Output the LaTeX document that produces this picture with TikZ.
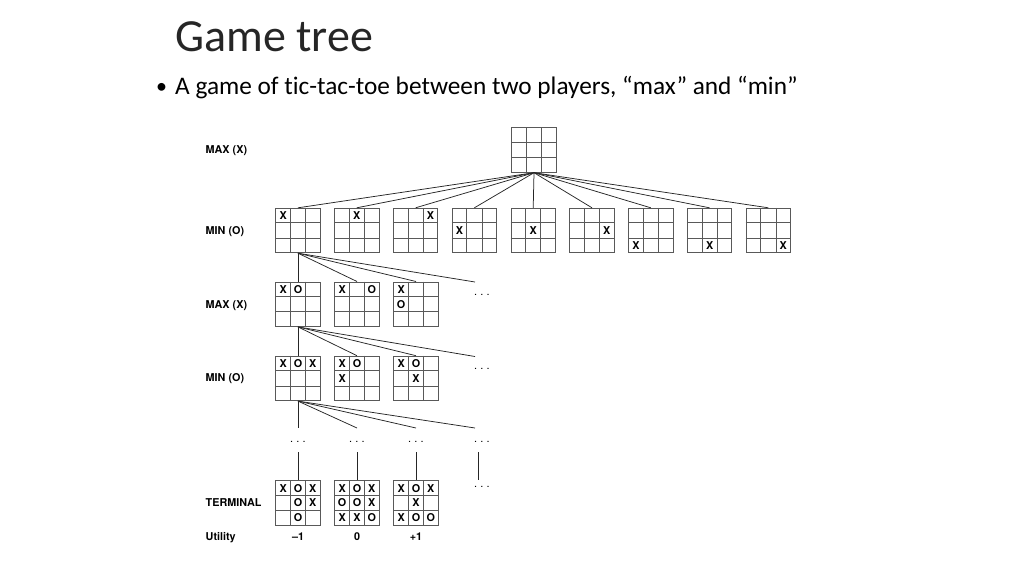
\documentclass[tikz,border=0pt]{standalone}
\usepackage{fontspec}
\setmainfont{Carlito}[Ligatures={NoCommon,NoRequired,NoContextual}]
\newfontfamily\labelfont{TeX Gyre Heros}
\usetikzlibrary{calc}

\definecolor{gridgray}{gray}{0.35}
\definecolor{edgegray}{gray}{0.15}

\tikzset{
  board/.style={draw=gridgray, line width=0.9pt, minimum width=44.5pt, minimum height=44.5pt, inner sep=0pt},
  gridline/.style={draw=gridgray, line width=0.9pt},
  cellmark/.style={font=\labelfont\bfseries\fontsize{10.8}{12}\selectfont, inner sep=0pt},
  rowlabel/.style={font=\labelfont\bfseries\fontsize{10.8}{12}\selectfont, anchor=base west, inner sep=0pt},
  utilval/.style={font=\labelfont\bfseries\fontsize{10.8}{12}\selectfont, anchor=base, inner sep=0pt},
  edge/.style={draw=edgegray, line width=0.75pt},
  dotsnode/.style={font=\labelfont\fontsize{11}{12}\selectfont, inner sep=0pt}
}

% board: name, x, y, marks as col/row/symbol
\newcommand{\tttboard}[4]{%
  \node[board] (#1) at (#2,#3) {};
  \draw[gridline]
    ($(#1.north west)!1/3!(#1.north east)$) -- ($(#1.south west)!1/3!(#1.south east)$)
    ($(#1.north west)!2/3!(#1.north east)$) -- ($(#1.south west)!2/3!(#1.south east)$)
    ($(#1.north west)!1/3!(#1.south west)$) -- ($(#1.north east)!1/3!(#1.south east)$)
    ($(#1.north west)!2/3!(#1.south west)$) -- ($(#1.north east)!2/3!(#1.south east)$);
  \foreach \mc/\mr/\ms in {#4} {
    \node[cellmark] at ($(#1.center)+({(\mc-2)*14.83},{(\mr-2)*14.83})$) {\ms};
  }%
}
\newcommand{\dotstext}{.\hspace{3.2pt}.\hspace{3.2pt}.}

\begin{document}
\begin{tikzpicture}[x=1pt, y=-1pt]
  \useasboundingbox (0,0) rectangle (1024,576);

  % slide text
  \node[anchor=base west, inner sep=0pt, text=black!85, font=\fontsize{46}{50}\selectfont] (title) at (175,51) {Game tree};
  \node[anchor=base west, inner sep=0pt, font=\fontsize{22}{25}\selectfont] (bullet) at (156,93) {•};
  \node[anchor=base west, inner sep=0pt, font=\fontsize{25.3}{28}\selectfont] (subtitle) at (175,94)
    {A game of tic-tac-toe between two players, “max” and “min”};

  % row labels
  \node[rowlabel] (lmax1) at (205.5,153) {MAX (X)};
  \node[rowlabel] (lmin1) at (205.5,234) {MIN (O)};
  \node[rowlabel] (lmax2) at (205.5,308.5) {MAX (X)};
  \node[rowlabel] (lmin2) at (205.5,381) {MIN (O)};
  \node[rowlabel] (lterm) at (205.5,506) {TERMINAL};
  \node[rowlabel] (lutil) at (205.5,540.5) {Utility};

  % root
  \tttboard{root}{534}{150}{}

  % first moves of X
  \foreach \i in {1,...,9} {
    \pgfmathsetmacro\bx{298+58.8*(\i-1)}
    \pgfmathtruncatemacro\cc{mod(\i-1,3)+1}
    \pgfmathtruncatemacro\rr{floor((\i-1)/3)+1}
    \tttboard{m\i}{\bx}{230.5}{\cc/\rr/X}
    \draw[edge] (root.south) -- (m\i.north);
  }

  % replies of O
  \tttboard{a1}{298}{304.2}{1/1/X, 2/1/O}
  \tttboard{a2}{357}{304.2}{1/1/X, 3/1/O}
  \tttboard{a3}{416}{304.2}{1/1/X, 1/2/O}
  \coordinate (a4) at (475,282);
  \node[dotsnode] (adots) at (482,295) {\dotstext};
  \foreach \n in {a1,a2,a3,a4}
    \draw[edge] (m1.south) -- (\n.north);

  % second moves of X
  \tttboard{b1}{298}{378.4}{1/1/X, 2/1/O, 3/1/X}
  \tttboard{b2}{357}{378.4}{1/1/X, 2/1/O, 1/2/X}
  \tttboard{b3}{416}{378.4}{1/1/X, 2/1/O, 2/2/X}
  \coordinate (b4) at (475,356.5);
  \node[dotsnode] (bdots) at (482,369) {\dotstext};
  \foreach \n in {b1,b2,b3,b4}
    \draw[edge] (a1.south) -- (\n.north);

  % further play
  \coordinate (c1) at (298,428);
  \coordinate (c2) at (357,428);
  \coordinate (c3) at (416,428);
  \coordinate (c4) at (475,428);
  \foreach \n in {c1,c2,c3,c4}
    \draw[edge] (b1.south) -- (\n);
  \node[dotsnode] (d1) at (298,442) {\dotstext};
  \node[dotsnode] (d2) at (357,442) {\dotstext};
  \node[dotsnode] (d3) at (416,442) {\dotstext};
  \node[dotsnode] (d4) at (482,442) {\dotstext};

  % terminal states
  \tttboard{t1}{298}{502.9}{1/1/X, 2/1/O, 3/1/X, 2/2/O, 3/2/X, 2/3/O}
  \tttboard{t2}{357}{502.9}{1/1/X, 2/1/O, 3/1/X, 1/2/O, 2/2/O, 3/2/X, 1/3/X, 2/3/X, 3/3/O}
  \tttboard{t3}{416}{502.9}{1/1/X, 2/1/O, 3/1/X, 2/2/X, 1/3/X, 2/3/O, 3/3/O}
  \foreach \k in {1,2,3}
    \draw[edge] ($(d\k)+(0,10)$) -- (t\k.north);
  \coordinate (t4) at (478,480);
  \draw[edge] ($(d4)+(-4,10)$) -- (t4);
  \node[dotsnode] (tdots) at (482,487) {\dotstext};

  % utilities
  \node[utilval] (u1) at (298,540.5) {–1};
  \node[utilval] (u2) at (357,540.5) {0};
  \node[utilval] (u3) at (416,540.5) {+1};
\end{tikzpicture}
\end{document}
